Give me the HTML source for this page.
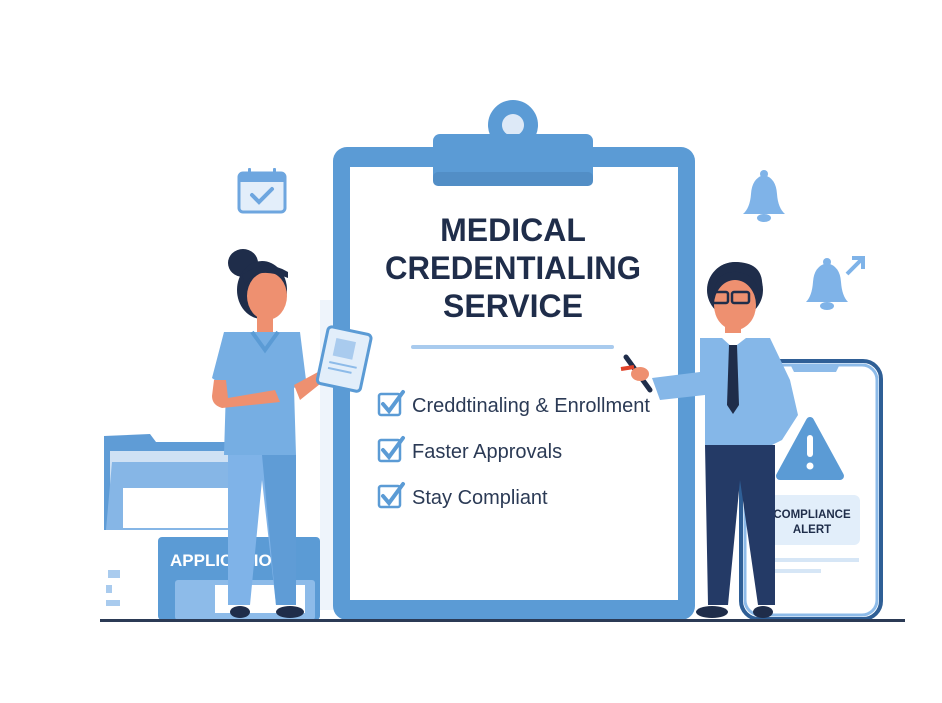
<!DOCTYPE html>
<html><head><meta charset="utf-8"><style>
html,body{margin:0;padding:0;background:#fff;}
svg{display:block;font-family:"Liberation Sans",sans-serif;}
</style></head><body>
<svg width="942" height="703" viewBox="0 0 942 703" xmlns="http://www.w3.org/2000/svg">
<!-- calendar -->
<rect x="239" y="173" width="46" height="39" rx="4" fill="#e3eefa" stroke="#6ea6df" stroke-width="3"/>
<rect x="239" y="173" width="46" height="9" fill="#6ea6df"/>
<rect x="248" y="168" width="3" height="8" rx="1" fill="#6ea6df"/><rect x="273" y="168" width="3" height="8" rx="1" fill="#6ea6df"/>
<path d="M252 195 L259 202 L272 189" stroke="#6ea6df" stroke-width="4" fill="none" stroke-linecap="round"/>
<!-- bells -->
<g fill="#7fb3e8">
<path d="M743 214 Q750 208 751 194 Q752 178 764 175 Q776 178 777 194 Q778 208 785 214 Z"/>
<circle cx="764" cy="174" r="4"/><ellipse cx="764" cy="218" rx="7" ry="4"/>
<path d="M806 302 Q812 296 813 282 Q814 266 827 263 Q840 266 841 282 Q842 296 848 302 Z"/>
<circle cx="827" cy="262" r="4"/><ellipse cx="827" cy="306" rx="7" ry="4"/>
</g>
<path d="M847 274 L862 259 M852 258 L863 258 L863 269" stroke="#7fb3e8" stroke-width="4" fill="none"/>
<!-- phone -->
<rect x="741" y="361" width="140" height="258" rx="18" fill="#fff" stroke="#2f5f96" stroke-width="4"/>
<rect x="745" y="365" width="132" height="250" rx="15" fill="#fff" stroke="#8dbbe9" stroke-width="3"/>
<path d="M790 364 L840 364 L836 372 L794 372 Z" fill="#8dbbe9"/>
<path d="M810 421 L840 476 L780 476 Z" fill="#5b9bd5" stroke="#5b9bd5" stroke-width="8" stroke-linejoin="round"/>
<rect x="807" y="435" width="6" height="22" rx="3" fill="#fff"/><circle cx="810" cy="466" r="3.5" fill="#fff"/>
<rect x="766" y="495" width="94" height="50" rx="6" fill="#e2eefa"/>
<text x="812" y="518" font-size="11.5" font-weight="bold" fill="#1f2d4a" text-anchor="middle">COMPLIANCE</text>
<text x="812" y="533" font-size="11.5" font-weight="bold" fill="#1f2d4a" text-anchor="middle">ALERT</text>
<rect x="771" y="558" width="88" height="4" fill="#d6e6f6"/><rect x="771" y="569" width="50" height="4" fill="#d6e6f6"/>
<!-- folders left -->
<path d="M104 530 L104 436 L150 434 L156 442 L228 442 L228 530 Z" fill="#5f9cd6"/>
<rect x="110" y="451" width="118" height="70" fill="#cfe1f4"/>
<path d="M106 530 L112 462 L228 462 L228 530 Z" fill="#86b6e6"/>
<rect x="123" y="488" width="105" height="40" fill="#fff"/>
<rect x="108" y="570" width="12" height="8" fill="#a9cbee"/><rect x="106" y="585" width="6" height="8" fill="#a9cbee"/><rect x="106" y="600" width="14" height="6" fill="#a9cbee"/>
<rect x="158" y="537" width="162" height="83" rx="4" fill="#5b9bd5"/>
<rect x="175" y="580" width="140" height="40" rx="3" fill="#8dbbe9"/>
<rect x="215" y="585" width="90" height="28" fill="#fff"/>
<text x="170" y="566" font-size="17" font-weight="bold" fill="#fff">APPLICATIONS</text>
<!-- clipboard -->
<rect x="320" y="300" width="14" height="310" fill="#eef4fb"/>
<rect x="333" y="147" width="362" height="473" rx="14" fill="#5b9bd5"/>
<rect x="350" y="167" width="328" height="433" fill="#fff"/>
<circle cx="513" cy="125" r="25" fill="#5b9bd5"/>
<circle cx="513" cy="125" r="11" fill="#dde9f7"/>
<rect x="433" y="134" width="160" height="52" rx="7" fill="#5b9bd5"/>
<rect x="433" y="172" width="160" height="14" rx="5" fill="#528ec6"/>
<g font-weight="bold" font-size="32" fill="#1f2d4a" text-anchor="middle">
<text x="513" y="241">MEDICAL</text>
<text x="513" y="279" textLength="256" lengthAdjust="spacingAndGlyphs">CREDENTIALING</text>
<text x="513" y="317">SERVICE</text>
</g>
<rect x="411" y="345" width="203" height="4" rx="2" fill="#a9cbee"/>
<g stroke="#5b9bd5" stroke-width="2.5" fill="#fff">
<rect x="379" y="394" width="21" height="21" rx="2"/><rect x="379" y="440" width="21" height="21" rx="2"/><rect x="379" y="486" width="21" height="21" rx="2"/>
</g>
<g stroke="#5b9bd5" stroke-width="4" fill="none" stroke-linecap="round">
<path d="M383 404 L389 411 L403 392"/><path d="M383 450 L389 457 L403 438"/><path d="M383 496 L389 503 L403 484"/>
</g>
<g font-size="20" fill="#2b3a55">
<text x="412" y="412">Creddtinaling &amp; Enrollment</text>
<text x="412" y="458">Faster Approvals</text>
<text x="412" y="504">Stay Compliant</text>
</g>
<!-- woman -->
<ellipse cx="243" cy="263" rx="15" ry="14" fill="#1f2d4a"/>
<ellipse cx="262" cy="290" rx="25" ry="29" fill="#1f2d4a"/>
<ellipse cx="267" cy="296" rx="20" ry="24" fill="#ee9070"/>
<path d="M245 285 Q255 265 288 278 L288 272 Q265 258 242 275 Z" fill="#1f2d4a"/>
<rect x="257" y="316" width="16" height="18" fill="#ee9070"/>
<path d="M224 332 L300 332 L306 380 L294 388 L296 455 L224 455 L226 388 L212 378 Z" fill="#76aee3"/>
<path d="M252 332 L265 350 L278 332" fill="none" stroke="#5b9bd5" stroke-width="4"/>
<path d="M228 455 L296 455 L296 605 L276 605 L262 480 L250 605 L228 605 Z" fill="#7fb3e8"/>
<path d="M262 455 L296 455 L296 605 L276 605 Z" fill="#5f9cd6"/>
<path d="M214 380 L226 380 L228 398 L275 390 L280 402 L222 408 Q212 405 212 396 Z" fill="#ee9070"/>
<path d="M294 385 L318 372 L325 380 L300 400 Z" fill="#ee9070"/>
<ellipse cx="240" cy="612" rx="10" ry="6" fill="#1f2d4a"/><ellipse cx="290" cy="612" rx="14" ry="6" fill="#1f2d4a"/>
<g transform="rotate(12 344 360)">
<rect x="322" y="330" width="44" height="58" rx="4" fill="#e2eefa" stroke="#5b9bd5" stroke-width="3"/>
<rect x="332" y="340" width="20" height="18" fill="#a9cbee"/>
<rect x="330" y="364" width="28" height="2" fill="#8dbbe9"/><rect x="330" y="370" width="24" height="2" fill="#8dbbe9"/>
</g>
<!-- man -->
<circle cx="735" cy="290" r="28" fill="#1f2d4a"/>
<ellipse cx="735" cy="305" rx="21" ry="25" fill="#ee9070"/>
<path d="M714 295 Q715 270 738 272 Q760 275 758 300 L762 290 Q765 262 735 262 Q707 264 710 295 Z" fill="#1f2d4a"/>
<g fill="none" stroke="#1f2d4a" stroke-width="2.5"><rect x="711" y="292" width="17" height="11" rx="2"/><rect x="732" y="292" width="17" height="11" rx="2"/></g>
<rect x="725" y="327" width="16" height="14" fill="#ee9070"/>
<path d="M700 338 L770 338 L790 380 L798 415 L782 440 L772 445 L705 445 L705 395 L660 400 L652 378 L700 372 Z" fill="#85b7e8"/>
<path d="M722 338 L733 348 L746 338 L744 333 L724 333 Z" fill="#fff"/>
<path d="M729 345 L737 345 L739 405 L733 414 L727 405 Z" fill="#1f2d4a"/>
<path d="M705 445 L775 445 L775 605 L758 605 L740 480 L728 605 L708 605 Z" fill="#243a66"/>
<ellipse cx="712" cy="612" rx="16" ry="6" fill="#1f2d4a"/><ellipse cx="763" cy="612" rx="10" ry="6" fill="#1f2d4a"/>
<path d="M626 357 L650 390" stroke="#1f2d4a" stroke-width="5" stroke-linecap="round"/>
<path d="M621 369 L634 367" stroke="#e0432a" stroke-width="4"/>
<ellipse cx="640" cy="374" rx="9" ry="7" fill="#ee9070"/>
<!-- ground -->
<rect x="100" y="619" width="805" height="3" fill="#2b3a55"/>
</svg>
</body></html>
